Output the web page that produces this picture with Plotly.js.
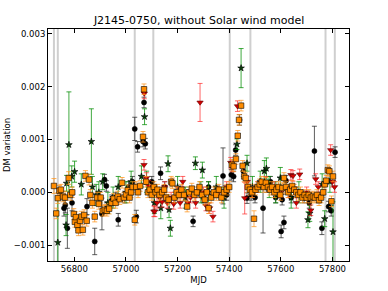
<!DOCTYPE html>
<html><head><meta charset="utf-8">
<script src="https://cdn.plot.ly/plotly-3.0.1.min.js"></script>
<style>html,body{margin:0;padding:0;background:#fff}#plot{width:388px;height:291px}</style>
</head><body><div id="plot"></div>
<script>
// Solar-conjunction markers (MJD)
const conjMJD = [56721, 56736, 57034, 57106, 57402, 57482, 57773, 57809];

// Orange squares
const orMJD = [56721,56730,56736,56742,56748,56756,56764,56778,56784,56792,56798,56802,56806,56812,56816,56822,56828,56833,56838,56843,56848,56857,56862,56870,56879,56888,56895,56902,56910,56918,56926,56935,56944,56952,56960,56968,56976,56985,56992,57000,57007,57014,57020,57026,57034,57040,57047,57055,57066,57070,57078,57085,57092,57100,57108,57115,57122,57130,57140,57148,57156,57165,57175,57180,57188,57196,57205,57215,57225,57237,57245,57255,57265,57275,57285,57295,57305,57313,57320,57330,57340,57350,57360,57370,57380,57390,57400,57410,57417,57426,57433,57438,57446,57452,57458,57464,57472,57480,57488,57496,57502,57510,57518,57526,57534,57542,57550,57558,57566,57575,57583,57591,57598,57606,57612,57620,57628,57636,57644,57652,57660,57668,57676,57684,57692,57700,57708,57716,57724,57732,57740,57748,57756,57764,57770,57776,57782,57788,57796,57802];
const orDM = [0.00012,-0.0004,-0.00011,0.00003,0.00005,-0.00008,-0.0001,0.00027,-0.00005,0.0,-0.00041,-0.00056,-0.00047,-0.00062,-0.00072,-0.00054,-0.00046,-0.00071,-0.00043,0.00031,-0.00054,0.00024,-0.00005,-0.0002,-0.00046,-0.0001,-0.00022,-0.0001,-0.00035,-0.00033,-0.00035,-0.00031,-0.0002,-0.00012,-0.0002,-0.00008,-0.00013,0.00018,-0.0001,-0.00004,0.00004,-0.0001,0.0,0.0001,-0.00052,0.0001,0.0,0.00012,0.00105,0.00195,0.0002,0.0,0.00005,-0.00005,0.0001,0.0,0.00005,-0.00005,0.0,0.00005,-0.0001,-0.00014,0.0002,0.00017,-0.0001,0.0,-0.00005,0.00005,-0.00005,-0.00027,0.0,0.00007,-0.00005,0.0,0.0001,-0.00005,-0.00014,0.0,-0.0003,-0.0001,0.0,-0.00005,0.00005,-0.0001,0.0,0.00005,0.0001,0.00052,0.00049,0.00063,0.00107,0.00137,0.00164,0.0005,0.0003,0.00027,0.0001,0.00005,0.0,-0.0005,0.00005,0.0001,0.00015,0.0002,0.0001,0.00018,0.0001,0.00005,0.0001,0.0,0.00005,0.0001,-0.00005,0.00008,0.00027,0.0001,0.0,0.00005,0.00012,0.00005,0.0,-0.00005,0.0,-0.0001,-0.00005,-0.0001,-0.00005,-0.0001,-0.00008,-0.0001,-0.00005,-0.00015,-0.0001,0.0,0.00015,0.00022,0.00042,0.0004,-0.00017,0.0003];
const orErr = [0.00014,0.0001,0.0001,0.0001,0.0001,0.0001,0.00012,0.00012,0.0001,0.0001,0.0001,0.0001,0.0001,0.0001,0.0001,0.0001,0.0001,0.0001,0.0001,0.0001,0.0001,0.0001,0.0001,0.0001,0.0001,0.0001,0.0001,0.0001,0.0001,0.0001,0.0001,0.0001,0.0001,0.0001,0.0001,0.0001,0.0001,0.0001,0.0001,0.0001,0.0001,0.0001,0.0001,0.0001,0.0001,0.0001,0.0001,0.0001,0.0001,0.0001,0.0001,0.0001,0.0001,0.0001,0.0001,0.0001,0.0001,0.0001,0.0001,0.0001,0.0001,0.0001,0.0001,0.0001,0.0001,0.0001,0.0001,0.0001,0.0001,0.0001,0.0001,0.0001,0.0001,0.0001,0.0001,0.0001,0.0001,0.0001,0.0001,0.0001,0.0001,0.0001,0.0001,0.0001,0.0001,0.0001,0.0001,0.0001,0.0001,0.0001,0.0001,0.0001,0.0001,0.0001,0.0001,0.0001,0.0001,0.0001,0.0001,0.00015,0.0001,0.0001,0.0001,0.0001,0.0001,0.0001,0.0001,0.0001,0.0001,0.0001,0.0001,0.0001,0.0001,0.0001,0.0001,0.0001,0.0001,0.0001,0.0001,0.0001,0.0001,0.0001,0.0001,0.0001,0.0001,0.0001,0.0001,0.0001,0.0001,0.0001,0.0001,0.0001,0.0001,0.0001,0.0001,0.0001,0.0001,0.0001,0.0001,0.0001];

// Black circles
const bkMJD = [56760,56765,56773,56791,56849,56879,56907,56917,56924,56925,56945,56960,56970,56995,57010,57025,57034,57040,57045,57066,57070,57075,57100,57134,57150,57190,57210,57230,57260,57280,57300,57320,57350,57376,57390,57408,57417,57425,57440,57455,57469,57485,57500,57531,57545,57560,57580,57601,57605,57612,57620,57640,57660,57690,57710,57730,57745,57759,57785,57795,57810];
const bkDM = [-0.0003,-0.00024,-0.00068,-0.0002,-0.00027,-0.00093,-0.00041,0.00024,0.00012,-0.0003,-0.00015,-0.0001,-0.00052,-0.0001,0.0001,0.0002,0.0012,-0.00046,0.00086,0.00096,0.0017,0.00092,0.0002,0.00036,0.0001,-0.0001,0.0,-0.00005,-0.00055,0.0,-0.0001,0.0001,0.0,0.00031,-0.00005,0.00033,0.0003,0.0008,0.00137,0.0004,-0.00011,-0.00005,-0.0001,-0.0003,0.0001,0.0002,-0.0001,-0.00074,-0.00014,-0.00057,0.00022,-0.0001,0.0,-0.0001,-0.0002,0.00078,-0.0001,-0.00068,-0.00027,-0.00035,0.00076];
const bkErr = [0.00015,0.00015,0.00038,0.00015,0.00015,0.00025,0.0003,0.0001,0.0001,0.0001,0.0001,0.0001,0.00012,0.0001,0.0001,0.0001,0.00022,0.00012,0.0001,0.0001,0.0001,0.0001,0.0001,0.00012,0.0001,0.0001,0.0001,0.0001,0.0001,0.0001,0.0001,0.0001,0.0001,0.00053,0.0001,0.0001,0.0001,0.0001,0.0001,0.0001,0.0001,0.0001,0.0001,0.00047,0.0001,0.0001,0.0001,0.00012,0.0001,0.00012,0.0001,0.0001,0.0001,0.0001,0.0001,0.00047,0.0001,0.00012,0.0001,0.0001,0.0001];

// Green stars
const grMJD = [56736,56768,56770,56779,56790,56801,56827,56866,56870,56885,56895,56910,56930,56950,56970,57000,57020,57060,57072,57080,57110,57135,57163,57167,57172,57200,57230,57269,57290,57296,57320,57350,57380,57430,57446,57469,57490,57520,57536,57544,57555,57580,57598,57640,57670,57705,57712,57760,57770,57790,57802];
const grDM = [-0.00095,-0.00062,0.00017,0.0009,0.0003,0.00039,0.00015,0.00096,0.0001,-0.00005,0.0,0.0002,-0.0002,-0.0001,0.0001,0.0,0.0002,0.0003,0.00143,0.0002,-0.0002,-0.0003,0.00054,-0.00033,-0.00068,0.0001,-0.0001,0.00055,0.0,0.00042,0.0,0.0001,-0.0001,0.00091,0.00235,0.00055,0.0001,0.0002,0.0004,0.00045,0.0001,0.0,0.00027,-0.0001,0.0,-0.00052,-0.0004,0.00015,-0.0005,0.0002,-0.00075];
const grErr = [0.00087,0.0002,0.00015,0.001,0.0002,0.0002,0.0002,0.00062,0.0002,0.0002,0.0002,0.00015,0.0002,0.0002,0.0002,0.0002,0.0002,0.0002,0.00015,0.0002,0.0002,0.0002,0.00015,0.00015,0.00015,0.0002,0.0002,0.00012,0.0002,0.00015,0.0002,0.0002,0.0002,0.0001,0.00037,0.00015,0.0002,0.0002,0.0002,0.0002,0.0002,0.0002,0.0002,0.0002,0.0002,0.00015,0.00015,0.0002,0.00015,0.0002,0.00057];

// Red down-triangles
const rdMJD = [57070,57071,57079,57088,57108,57112,57120,57130,57140,57150,57160,57175,57185,57200,57210,57220,57240,57250,57270,57287,57300,57310,57324,57337,57360,57390,57406,57412,57432,57460,57470,57490,57510,57540,57575,57600,57630,57639,57647,57660,57673,57700,57716,57735,57745,57793,57800,57808];
const rdDM = [0.00052,0.00187,0.00027,0.00012,-0.00036,-0.00036,-0.0002,-0.0001,-0.00018,0.0001,-0.0002,-0.0001,-0.00022,0.0,-0.0002,0.0002,-0.0002,-0.0001,-0.0002,0.0017,0.0,-0.00025,-0.0003,-0.00046,0.0,0.0001,0.00056,0.00049,0.00163,-0.00011,0.0002,0.0,0.0001,0.0002,0.0001,0.0,0.0,0.00033,0.00031,-0.0002,0.00034,0.0,-0.00034,0.00025,0.0001,0.0008,0.0002,0.0001];
const rdErr = [0.0001,0.0001,0.0001,0.0001,0.0001,0.0001,0.0001,0.0001,0.0001,0.0001,0.0001,0.0001,0.0001,0.0001,0.0001,0.0001,0.0001,0.0001,0.0001,0.00036,0.0001,0.0001,0.0001,0.0001,0.0001,0.0001,0.0001,0.0001,0.0001,0.0003,0.0001,0.0001,0.0001,0.0001,0.0001,0.0001,0.0001,0.0001,0.0001,0.0001,0.0001,0.0001,0.0001,0.0001,0.0001,0.0001,0.0001,0.0001];

function series(x, y, e, sym, size, fill, edge, ecol) {
  return {
    type: 'scatter', mode: 'markers', x: x, y: y,
    error_y: {type: 'data', array: e, visible: true, color: ecol, thickness: 1, width: 2.5},
    marker: {symbol: sym, size: size, color: fill, line: {color: edge, width: 0.6}},
    showlegend: false, hoverinfo: 'skip'
  };
}

const data = [
  series(bkMJD, bkDM, bkErr, 'circle', 5, '#000000', '#000000', 'rgba(40,40,40,0.75)'),
  series(grMJD, grDM, grErr, 'star', 5, '#0b3d0b', '#000000', 'rgba(0,140,0,0.75)'),
  series(rdMJD, rdDM, rdErr, 'triangle-down', 5.5, '#d40000', '#600000', 'rgba(255,40,40,0.7)'),
  series(orMJD, orDM, orErr, 'square', 5.5, '#ff8c00', '#000000', 'rgba(255,150,30,0.75)')
];

const shapes = conjMJD.map(m => ({
  type: 'line', xref: 'x', yref: 'paper', x0: m, x1: m, y0: 0, y1: 1,
  line: {color: '#cfcfcf', width: 2}, layer: 'below'
}));

const axisCommon = {
  showline: true, linecolor: '#000', linewidth: 1, mirror: 'allticks',
  ticks: 'inside', ticklen: 4, tickwidth: 1, tickcolor: '#000',
  showgrid: false, zeroline: false,
  tickfont: {family: 'DejaVu Sans', size: 8.5, color: '#000'}
};

const layout = {
  width: 388, height: 291,
  margin: {l: 48, r: 39, t: 29, b: 30},
  paper_bgcolor: '#fff', plot_bgcolor: '#fff',
  font: {family: 'DejaVu Sans', color: '#000'},
  title: {text: 'J2145-0750, without Solar wind model', font: {family: 'DejaVu Sans', size: 11, color: '#000'},
          x: 0.513, xanchor: 'center', y: 0.93, yanchor: 'middle', yref: 'container'},
  xaxis: Object.assign({}, axisCommon, {
    range: [56698, 57864], tickvals: [56800, 57000, 57200, 57400, 57600, 57800],
    ticktext: ['56800', '57000', '57200', '57400', '57600', '57800'],
    title: {text: 'MJD', font: {family: 'DejaVu Sans', size: 8.5, color: '#000'}, standoff: 3}
  }),
  yaxis: Object.assign({}, axisCommon, {
    range: [-0.0013, 0.00309], tickvals: [-0.001, 0, 0.001, 0.002, 0.003],
    tickformat: '.3f',
    title: {text: 'DM variation', font: {family: 'DejaVu Sans', size: 8.5, color: '#000'}, standoff: 1}
  }),
  shapes: shapes
};

Plotly.newPlot('plot', data, layout, {staticPlot: true, displayModeBar: false});
</script></body></html>
